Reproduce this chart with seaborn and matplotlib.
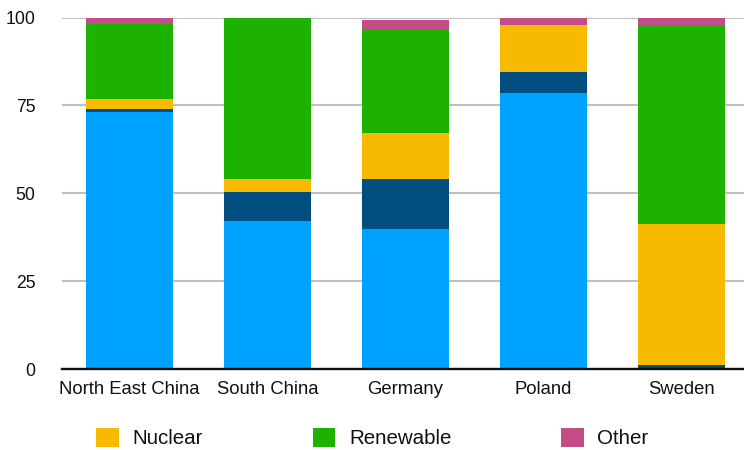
import matplotlib
matplotlib.use("Agg")
import matplotlib.pyplot as plt
import seaborn as sns
import numpy as np
import pandas as pd
from matplotlib.patches import Patch

# ---- data ----
regions = ["North East China", "South China", "Germany", "Poland", "Sweden"]
coal = [73.1, 42.0, 39.8, 78.4, 0.0]
gas = [0.9, 8.3, 14.2, 6.0, 1.1]
nuclear = [2.8, 3.7, 13.0, 13.6, 40.1]
renewable = [21.4, 46.0, 29.5, 0.0, 56.8]
other = [1.8, 0.0, 2.9, 2.0, 2.0]
y_ticks = [0, 25, 50, 75, 100]
legend_labels = ["Nuclear", "Renewable", "Other"]

series = [coal, gas, nuclear, renewable, other]
colors = ["#00A2FF", "#004D80", "#F8BA00", "#1DB100", "#C44D87"]

sns.set_theme(style="white")
plt.rcParams["font.family"] = ["Liberation Sans", "DejaVu Sans"]

fig = plt.figure(figsize=(7.44, 4.5), dpi=100)
ax = fig.add_axes([62 / 744, 81 / 450, 682 / 744, 351.5 / 450])

cum = np.cumsum(np.array(series), axis=0)
df_base = pd.DataFrame({"region": regions})
for i in range(len(series) - 1, -1, -1):
    d = df_base.copy()
    d["value"] = cum[i]
    sns.barplot(data=d, x="region", y="value", color=colors[i], width=0.63,
                linewidth=0, edgecolor="none", saturation=1, ax=ax, zorder=2,
                errorbar=None)

ax.set_ylim(0, 100)
ax.set_xlim(-0.49, 4.456)
ax.set_yticks(y_ticks)
ax.set_yticklabels([str(v) for v in y_ticks])
ax.set_xlabel("")
ax.set_ylabel("")
ax.yaxis.grid(True, color="#BFBFBF", linewidth=1.5, zorder=0)
ax.set_axisbelow(True)
for s in ["left", "right", "top"]:
    ax.spines[s].set_visible(False)
ax.spines["bottom"].set_color("#111111")
ax.spines["bottom"].set_linewidth(1.7)
ax.spines["bottom"].set_zorder(5)
ax.tick_params(axis="both", length=0)
ax.tick_params(axis="y", pad=19, labelsize=12.7, labelcolor="#111111")
ax.tick_params(axis="x", pad=8.5, labelsize=13.3, labelcolor="#111111")

handles = [Patch(facecolor=c, edgecolor="none") for c in colors[2:]]
fig.legend(handles, legend_labels, loc="center left",
           bbox_to_anchor=(96 / 744, (450 - 438) / 450), ncol=3, frameon=False,
           fontsize=14.75, handlelength=1.1, handleheight=1.1,
           handletextpad=0.68, columnspacing=5.35, borderpad=0, borderaxespad=0,
           labelcolor="#111111")

fig.savefig("out.png", dpi=100)
